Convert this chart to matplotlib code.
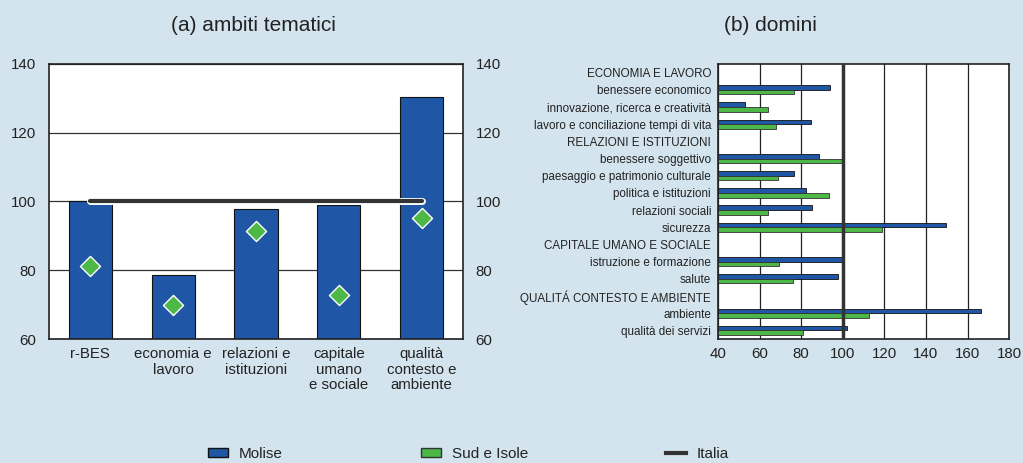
import matplotlib
matplotlib.use("Agg")
import matplotlib.pyplot as plt
import matplotlib.patheffects as pe
from matplotlib.patches import Patch
from matplotlib.lines import Line2D
import numpy as np

plt.rcParams['font.family'] = ['Liberation Sans', 'DejaVu Sans']

# data for panel (a)
ambiti = ["r-BES", "economia e\nlavoro", "relazioni e\nistituzioni",
          "capitale\numano\ne sociale", "qualità\ncontesto e\nambiente"]
molise_a = [100.0, 78.6, 97.8, 99.1, 130.4]
sud_a = [81.3, 70.0, 91.3, 72.9, 95.1]
italia = 100

# data for panel (b); None -> header row
domini = ["ECONOMIA E LAVORO", "benessere economico", "innovazione, ricerca e creatività",
          "lavoro e conciliazione tempi di vita", "RELAZIONI E ISTITUZIONI",
          "benessere soggettivo", "paesaggio e patrimonio culturale",
          "politica e istituzioni", "relazioni sociali", "sicurezza",
          "CAPITALE UMANO E SOCIALE", "istruzione e formazione", "salute",
          "QUALITÁ CONTESTO E AMBIENTE", "ambiente", "qualità dei servizi"]
molise_b = [None, 93.8, 53.0, 84.8, None, 88.5, 76.3, 82.5, 85.4, 149.6,
            None, 100.5, 97.6, None, 166.7, 102.0]
sud_b = [None, 76.4, 63.8, 67.9, None, 100.5, 68.7, 93.3, 64.2, 118.7,
         None, 69.4, 76.0, None, 112.7, 80.8]

blue = "#1f56a5"
green = "#4db848"
bg = "#d3e4ee"
dark = "#333333"
txt = "#222222"

fig = plt.figure(figsize=(10.23, 4.63), dpi=100)
fig.patch.set_facecolor(bg)

# ---- panel (a)
ax1 = fig.add_axes([0.0479, 0.2678, 0.4047, 0.594])
x = np.arange(len(ambiti))
ax1.bar(x, molise_a, width=0.52, color=blue, edgecolor="#111111", linewidth=0.8, zorder=2)
ax1.plot([x[0], x[-1]], [italia, italia], color=dark, lw=3, solid_capstyle="round",
         path_effects=[pe.Stroke(linewidth=5, foreground="white"), pe.Normal()], zorder=3)
ax1.scatter(x, sud_a, marker="D", s=105, color=green, edgecolor="white", linewidth=1, zorder=4)
ax1.set_xlim(-0.5, 4.5)
ax1.set_ylim(60, 140)
ax1.set_yticks([60, 80, 100, 120, 140])
ax1.grid(axis="y", color=dark, lw=0.9, zorder=0)
ax1.set_axisbelow(True)
ax1.set_xticks(x)
ax1.set_xticklabels(ambiti, fontsize=10.8, linespacing=1.12)
ax1.tick_params(length=0, labelsize=10.8, colors=txt)
ax1.tick_params(axis="x", pad=6)
ax1.tick_params(axis="y", labelright=True, right=False, pad=9)
for s in ax1.spines.values():
    s.set_color(txt)
    s.set_linewidth(1.2)
fig.text(0.248, 0.946, "(a) ambiti tematici", ha="center", va="center", fontsize=15, color=txt)

# ---- panel (b)
ax2 = fig.add_axes([0.7019, 0.2678, 0.2845, 0.594])
rows = np.arange(len(domini))
h = 0.27
for i in rows:
    if molise_b[i] is not None:
        ax2.barh(i - h / 2, molise_b[i] - 40, left=40, height=h, color=blue,
                 edgecolor="#111111", linewidth=0.6, zorder=2)
        ax2.barh(i + h / 2, sud_b[i] - 40, left=40, height=h, color=green,
                 edgecolor="#333333", linewidth=0.6, zorder=2)
ax2.axvline(italia, color=dark, lw=2.5, zorder=3)
ax2.set_xlim(40, 180)
ax2.set_ylim(15.5, -0.5)
ax2.set_xticks(range(40, 181, 20))
ax2.grid(axis="x", color=txt, lw=0.9, zorder=0)
ax2.set_axisbelow(True)
ax2.set_yticks(rows)
ax2.set_yticklabels(domini, fontsize=8.4)
ax2.tick_params(length=0, colors=txt)
ax2.tick_params(axis="x", labelsize=10.8, pad=6)
ax2.tick_params(axis="y", pad=5)
for s in ax2.spines.values():
    s.set_color(txt)
    s.set_linewidth(1.2)
fig.text(0.753, 0.946, "(b) domini", ha="center", va="center", fontsize=15, color=txt)

# ---- legend
handles = [Patch(facecolor=blue, edgecolor="#111111", label="Molise"),
           Patch(facecolor=green, edgecolor="#333333", label="Sud e Isole"),
           Line2D([], [], color=dark, lw=3, label="Italia")]
fig.legend(handles=handles, loc="lower center", bbox_to_anchor=(0.458, -0.025), ncol=3,
           frameon=False, fontsize=11, columnspacing=9.0, handlelength=1.35,
           handleheight=0.6, handletextpad=0.7, labelcolor=txt)

fig.savefig("out.png", dpi=100, facecolor=bg)
